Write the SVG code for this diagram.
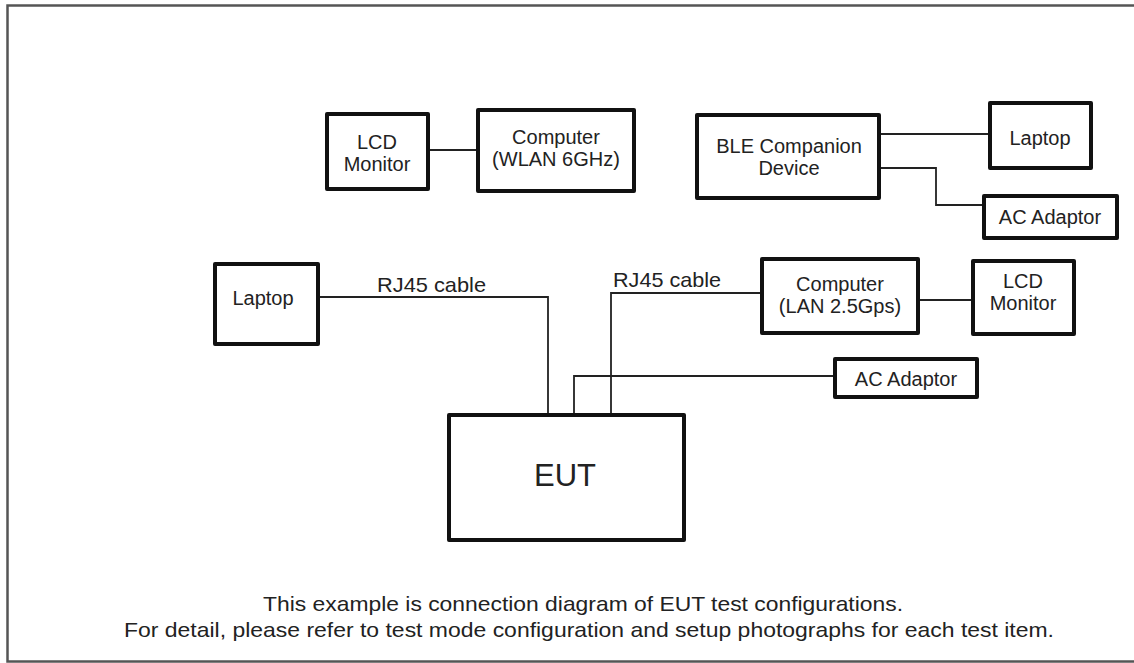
<svg xmlns="http://www.w3.org/2000/svg" width="1134" height="663" viewBox="0 0 1134 663">
<style>
.box{fill:#fff;stroke:#111;stroke-width:4;stroke-linejoin:round}
.lbl{font-family:"Liberation Sans",Arial,sans-serif;font-size:20px;fill:#222;text-anchor:middle}
.cap{font-family:"Liberation Sans",Arial,sans-serif;font-size:21px;fill:#222}
.note{font-family:"Liberation Sans",Arial,sans-serif;font-size:21px;fill:#222}
.wire{fill:none;stroke:#222;stroke-width:1.8}
</style>
<rect x="0" y="0" width="1134" height="663" fill="#fff"/>
<rect x="7.5" y="5.5" width="1140" height="656" fill="none" stroke="#555" stroke-width="2.5"/>
<g id="connectors">
<path class="wire" d="M428 150 H478"/>
<path class="wire" d="M879 134 H990"/>
<path class="wire" d="M879 168 H936 V205 H984"/>
<path class="wire" d="M318 297 H548 V415"/>
<path class="wire" d="M611 415 V293 H762"/>
<path class="wire" d="M574 415 V376 H835"/>
<path class="wire" d="M918 300 H973"/>
<text class="cap" x="377" y="292" textLength="109" lengthAdjust="spacingAndGlyphs">RJ45 cable</text>
<text class="cap" x="613" y="287" textLength="108" lengthAdjust="spacingAndGlyphs">RJ45 cable</text>
</g>
<g id="lcd1"><rect class="box" x="327" y="114" width="101" height="75"/><text class="lbl" x="377" y="149">LCD</text><text class="lbl" x="377" y="171">Monitor</text></g>
<g id="pc-wlan"><rect class="box" x="478" y="110" width="156" height="81"/><text class="lbl" x="556" y="144">Computer</text><text class="lbl" x="556" y="166">(WLAN 6GHz)</text></g>
<g id="ble"><rect class="box" x="697" y="115" width="182" height="83"/><text class="lbl" x="789" y="153">BLE Companion</text><text class="lbl" x="789" y="175">Device</text></g>
<g id="laptop1"><rect class="box" x="990" y="103" width="101" height="65"/><text class="lbl" x="1040" y="145">Laptop</text></g>
<g id="ac1"><rect class="box" x="984" y="196" width="133" height="42"/><text class="lbl" x="1050" y="224">AC Adaptor</text></g>
<g id="laptop2"><rect class="box" x="215" y="264" width="103" height="80"/><text class="lbl" x="263" y="305">Laptop</text></g>
<g id="pc-lan"><rect class="box" x="762" y="259" width="156" height="74"/><text class="lbl" x="840" y="291">Computer</text><text class="lbl" x="840" y="313">(LAN 2.5Gps)</text></g>
<g id="lcd2"><rect class="box" x="973" y="261" width="101" height="73"/><text class="lbl" x="1023" y="288">LCD</text><text class="lbl" x="1023" y="310">Monitor</text></g>
<g id="ac2"><rect class="box" x="835" y="359" width="142" height="38"/><text class="lbl" x="906" y="386">AC Adaptor</text></g>
<g id="eut"><rect class="box" x="449" y="415" width="235" height="125"/><text class="lbl" x="565" y="486" style="font-size:31px">EUT</text></g>
<g id="note">
<text class="note" x="263" y="611" textLength="640" lengthAdjust="spacingAndGlyphs">This example is connection diagram of EUT test configurations.</text>
<text class="note" x="124" y="637" textLength="930" lengthAdjust="spacingAndGlyphs">For detail, please refer to test mode configuration and setup photographs for each test item.</text>
</g>
</svg>
